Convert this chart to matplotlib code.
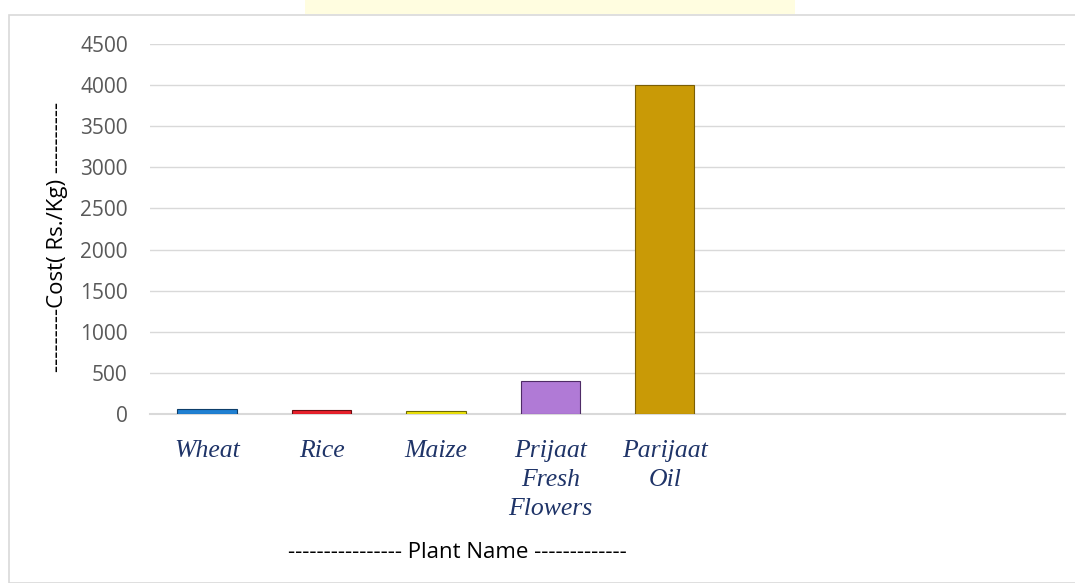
import matplotlib
matplotlib.use("Agg")
import matplotlib.pyplot as plt
from matplotlib.patches import Rectangle

categories = ["Wheat", "Rice", "Maize", "Prijaat\nFresh\nFlowers", "Parijaat\nOil", "", "", ""]
values = [60, 45, 40, 400, 4000, None, None, None]
colors = ["#1F80D2", "#E8212B", "#EFE40A", "#B07AD6", "#C99A06"]
edge_colors = ["#0E3E6A", "#6B0E12", "#6E6A04", "#4E2B66", "#7A5E05"]
yticks = [0, 500, 1000, 1500, 2000, 2500, 3000, 3500, 4000, 4500]

fig = plt.figure(figsize=(10.75, 5.83), dpi=100)
ax = fig.add_axes([150/1075, 1-414/583, 915/1075, 370/583])

# faint yellow strip at top and outer frame
fig.patches.append(Rectangle((305/1075, 1-14/583), 490/1075, 14/583, transform=fig.transFigure,
                             facecolor="#FFFDE0", edgecolor="none"))
fig.patches.append(Rectangle((9/1075, 0.0), 1.1, 1-15/583, transform=fig.transFigure,
                             facecolor="none", edgecolor="#D9D9D9", linewidth=1.2))

xs = list(range(len(categories)))
for i, v in enumerate(values):
    if v is None:
        continue
    ax.bar(i, v, width=0.52, color=colors[i], edgecolor=edge_colors[i], linewidth=0.8, zorder=3)

ax.set_xlim(-0.5, len(categories) - 0.5)
ax.set_ylim(0, 4500)
ax.set_yticks(yticks)
ax.set_yticklabels([str(t) for t in yticks], fontsize=15, color="#595959", family="Open Sans")
ax.set_xticks(xs)
ax.set_xticklabels(categories, fontsize=18.5, color="#1F3468", family="Liberation Serif",
                   style="italic", linespacing=1.4, va="top")
ax.tick_params(axis="both", length=0)
ax.tick_params(axis="x", pad=19)
ax.tick_params(axis="y", pad=16)
ax.yaxis.grid(True, color="#D9D9D9", linewidth=1.0, zorder=0)
ax.set_axisbelow(True)
for s in ["top", "right", "left"]:
    ax.spines[s].set_visible(False)
ax.spines["bottom"].set_color("#D9D9D9")
ax.spines["bottom"].set_linewidth(1.5)

fig.text(57/1075, 1-237/583, "---------Cost( Rs./Kg) ----------", rotation=90, ha="center", va="center",
         fontsize=16, color="#000000", family="Open Sans")
fig.text(457/1075, 1-553/583, "---------------- Plant Name -------------", ha="center", va="center",
         fontsize=16, color="#000000", family="Open Sans")

fig.savefig("out.png", dpi=100)
